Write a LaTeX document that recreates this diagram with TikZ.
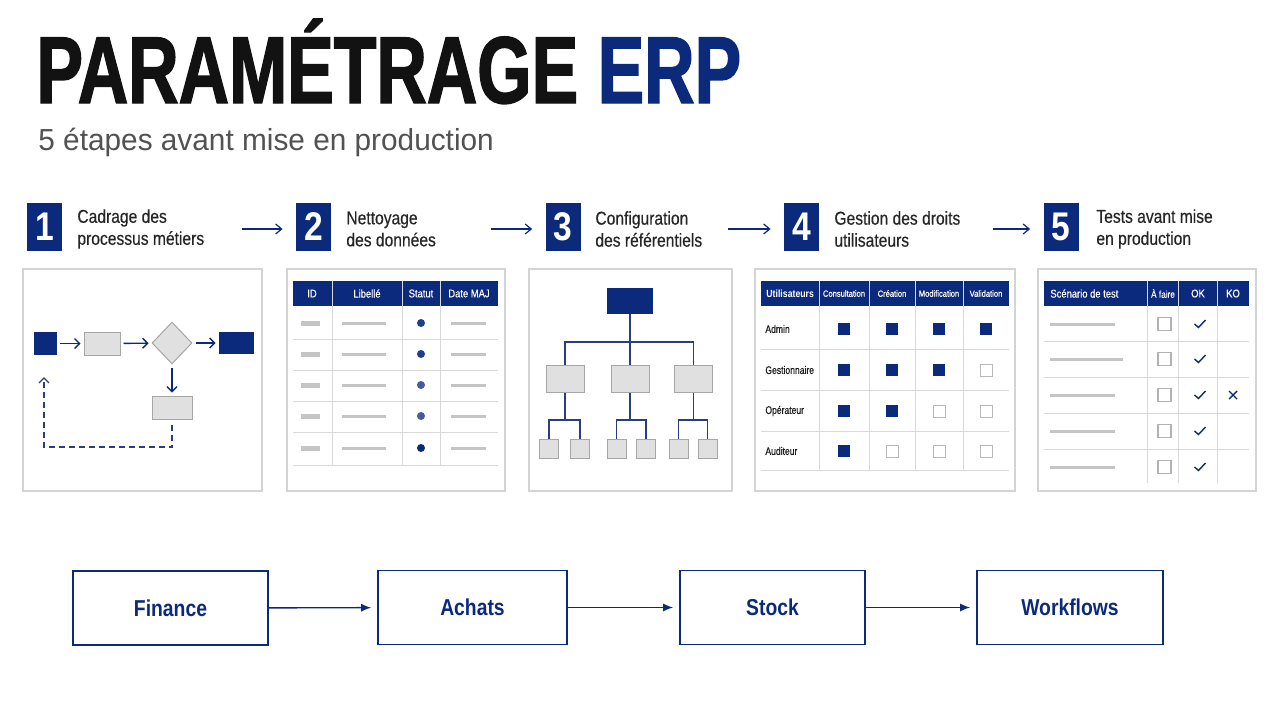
\documentclass[tikz,border=0pt]{standalone}
\usepackage{fontspec}
\setmainfont{Liberation Sans}
\newfontfamily\titlefont[FakeStretch=0.735,FakeBold=1.5]{Liberation Sans}
\newfontfamily\subfont[FakeStretch=0.98]{Liberation Sans}
\newfontfamily\condfont[FakeStretch=0.84]{Liberation Sans}
\newfontfamily\condmed[FakeStretch=0.84,FakeBold=0.4]{Liberation Sans}
\newfontfamily\rowfont[FakeStretch=0.78,FakeBold=0.5]{Liberation Sans}
\usetikzlibrary{arrows.meta,shapes.geometric,positioning}

\definecolor{erpnavy}{HTML}{0B2A7C}
\definecolor{dotA}{HTML}{1E3F8C}
\definecolor{dotB}{HTML}{4A5B9C}
\definecolor{treeblue}{HTML}{2B3D7C}

\begin{document}
\begin{tikzpicture}[x=0.5pt, y=-0.5pt,
    numbox/.style={fill=erpnavy, text=white, minimum width=17.5pt, minimum height=24pt, inner sep=0pt,
        font=\condfont\bfseries\fontsize{20}{20}\selectfont},
    steplabel/.style={anchor=west, align=left, inner sep=0pt, text=black!85,
        font=\condmed\fontsize{9.3}{11}\selectfont},
    steparrow/.style={-{Straight Barb[length=3pt,width=5pt]}, erpnavy, line width=0.6pt, shorten >=6.5pt},
    panel/.style={draw=black!17, line width=0.7pt, fill=white},
    navybox/.style={fill=erpnavy, inner sep=0pt},
    graybox/.style={draw=black!35, fill=black!12, line width=0.5pt, inner sep=0pt},
    graydiamond/.style={diamond, draw=black!35, fill=black!12, line width=0.5pt, inner sep=0pt,
        minimum width=20pt, minimum height=21pt},
    flowarrow/.style={-{Straight Barb[length=2.5pt,width=5pt]}, erpnavy, line width=0.7pt,
        shorten <=1.5pt, shorten >=1.5pt},
    loopline/.style={-{Straight Barb[length=2.5pt,width=5pt]}, treeblue, line width=0.7pt,
        dash pattern=on 3pt off 2pt, shorten <=2.5pt},
    treeline/.style={treeblue, line width=0.7pt},
    rule/.style={black!15, line width=0.5pt},
    bar/.style={black!23, line width=1.5pt},
    bargray/.style={black!23},
    headtext/.style={text=white, inner sep=0pt, font=\condmed\fontsize{5.6}{6}\selectfont},
    smallhead/.style={text=white, inner sep=0pt, font=\condmed\fontsize{4.5}{5}\selectfont},
    rowlabel/.style={anchor=west, inner sep=0pt, text=black!88, font=\rowfont\fontsize{5.5}{6}\selectfont},
    rightyes/.style={fill=erpnavy},
    rightno/.style={draw=black!28, fill=white, line width=0.5pt},
    checkbox/.style={draw=black!30, fill=white, line width=0.6pt},
    tick/.style={erpnavy, line width=0.7pt},
    module/.style={draw=erpnavy, line width=0.8pt, minimum height=37pt, text=erpnavy,
        font=\condfont\bfseries\fontsize{11.5}{12}\selectfont},
    modarrow/.style={-{Latex[length=5pt,width=4pt]}, erpnavy, line width=0.7pt, shorten >=3pt}
]

    % Background
    \fill[white] (0,0) rectangle (1280,702);
    \useasboundingbox (0,0) rectangle (1280,702);

    % Title
    \node[anchor=base west, inner sep=0pt, text=black!93,
        font=\titlefont\bfseries\fontsize{47.5}{47.5}\selectfont] (title) at (36,103)
        {PARAMÉTRAGE \textcolor{erpnavy}{ERP}};
    \node[anchor=base west, inner sep=0pt, text=black!68,
        font=\subfont\fontsize{15.2}{15.2}\selectfont] (subtitle) at (38,150)
        {5 étapes avant mise en production};

    % Steps
    \node[numbox] (n1) at (44.5,227) {1};
    \node[numbox] (n2) at (313.5,227) {2};
    \node[numbox] (n3) at (563,227) {3};
    \node[numbox] (n4) at (801.5,227) {4};
    \node[numbox] (n5) at (1061,227) {5};

    \node[steplabel] (s1) at (77,229) {Cadrage des\\processus métiers};
    \node[steplabel] (s2) at (346,229) {Nettoyage\\des données};
    \node[steplabel] (s3) at (595,229) {Configuration\\des référentiels};
    \node[steplabel] (s4) at (834,229) {Gestion des droits\\utilisateurs};
    \node[steplabel] (s5) at (1096,229) {Tests avant mise\\en production};

    \coordinate (a12) at (242,229);
    \coordinate (a23) at (491,229);
    \coordinate (a34) at (728,229);
    \coordinate (a45) at (993,229);
    \draw[steparrow] (a12) -- (n2.west |- a12);
    \draw[steparrow] (a23) -- (n3.west |- a23);
    \draw[steparrow] (a34) -- (n4.west |- a34);
    \draw[steparrow] (a45) -- (n5.west |- a45);

    % Panels
    \draw[panel] (23,269) rectangle (262,491);
    \draw[panel] (287,269) rectangle (505,491);
    \draw[panel] (529,269) rectangle (732,491);
    \draw[panel] (755,269) rectangle (1015,491);
    \draw[panel] (1038,269) rectangle (1256,491);

    % 1: process flow
    \node[navybox, minimum width=11.5pt, minimum height=11.5pt] (f1start) at (45.5,343.5) {};
    \node[graybox, minimum width=18pt, minimum height=11.5pt] (f1task) at (102,343.5) {};
    \node[graydiamond] (f1test) at (172,343) {};
    \node[navybox, minimum width=17.5pt, minimum height=11pt] (f1end) at (236.5,343) {};
    \node[graybox, minimum width=20pt, minimum height=11.5pt] (f1fix) at (172,407.5) {};
    \draw[flowarrow] (f1start) -- (f1task);
    \draw[flowarrow] (f1task) -- (f1test);
    \draw[flowarrow] (f1test) -- (f1end);
    \draw[flowarrow] (f1test) -- (f1fix);
    \coordinate (f1turn) at (172,447);
    \coordinate (f1back) at (44,377);
    \draw[loopline] (f1fix) -- (f1turn) -| (f1back);

    % 2: data table
    \fill[erpnavy] (293,281) rectangle (498,306);
    \foreach \y in {339,370,401,432,465}
        \draw[rule] (293,\y) -- (498,\y);
    \foreach \x in {332,402,440}
        \draw[rule] (\x,281) -- (\x,465);
    \node[headtext] (t2id) at (312,293.5) {ID};
    \node[headtext] (t2lib) at (367,293.5) {Libellé};
    \node[headtext] (t2stat) at (421,293.5) {Statut};
    \node[headtext] (t2date) at (469,293.5) {Date MAJ};
    \foreach \y/\c in {323/dotA, 354/dotA, 385/dotB, 416/dotB, 448/erpnavy} {
        \fill[bargray] (301,\y-2.5) rectangle (320,\y+2.5);
        \draw[bar] (342,\y) -- (386,\y);
        \fill[\c] (421,\y) circle[radius=2pt];
        \draw[bar] (451,\y) -- (486,\y);
    }

    % 3: reference tree
    \node[navybox, minimum width=23pt, minimum height=13pt] (r3root) at (630,301) {};
    \node[graybox, minimum width=19pt, minimum height=13.5pt] (r3a) at (565,378.5) {};
    \node[graybox, minimum width=19pt, minimum height=13.5pt] (r3b) at (630,378.5) {};
    \node[graybox, minimum width=19pt, minimum height=13.5pt] (r3c) at (693.5,378.5) {};
    \node[graybox, minimum size=9.5pt] (r3a1) at (549,448.5) {};
    \node[graybox, minimum size=9.5pt] (r3a2) at (580,448.5) {};
    \node[graybox, minimum size=9.5pt] (r3b1) at (616.5,448.5) {};
    \node[graybox, minimum size=9.5pt] (r3b2) at (646,448.5) {};
    \node[graybox, minimum size=9.5pt] (r3c1) at (678.5,448.5) {};
    \node[graybox, minimum size=9.5pt] (r3c2) at (707.5,448.5) {};
    \coordinate (r3bus) at (630,342);
    \draw[treeline] (r3root) -- (r3bus);
    \draw[treeline] (r3a.north) |- (r3bus) -| (r3c.north);
    \draw[treeline] (r3bus) -- (r3b.north);
    \coordinate (r3abus) at (565,420);
    \coordinate (r3bbus) at (630,420);
    \coordinate (r3cbus) at (693.5,420);
    \draw[treeline] (r3a) -- (r3abus);
    \draw[treeline] (r3b) -- (r3bbus);
    \draw[treeline] (r3c) -- (r3cbus);
    \draw[treeline] (r3a1.north) |- (r3abus) -| (r3a2.north);
    \draw[treeline] (r3b1.north) |- (r3bbus) -| (r3b2.north);
    \draw[treeline] (r3c1.north) |- (r3cbus) -| (r3c2.north);

    % 4: user rights
    \fill[erpnavy] (761,281) rectangle (1009,306);
    \foreach \y in {349,390,431,470}
        \draw[rule] (761,\y) -- (1009,\y);
    \foreach \x in {819,869,915,963}
        \draw[rule] (\x,281) -- (\x,470);
    \node[headtext, anchor=west, font=\condfont\bfseries\fontsize{5.2}{6}\selectfont] (t4user) at (766,293.5) {Utilisateurs};
    \node[smallhead] (t4cons) at (844,293.5) {Consultation};
    \node[smallhead] (t4crea) at (892,293.5) {Création};
    \node[smallhead] (t4modi) at (939,293.5) {Modification};
    \node[smallhead] (t4vali) at (986,293.5) {Validation};
    \node[rowlabel] (u4admin) at (765,329) {Admin};
    \node[rowlabel] (u4gest) at (765,370) {Gestionnaire};
    \node[rowlabel] (u4oper) at (765,411) {Opérateur};
    \node[rowlabel] (u4audi) at (765,451) {Auditeur};
    \foreach \x/\y/\k in {844/329/rightyes, 892/329/rightyes, 939/329/rightyes, 986/329/rightyes,
                          844/370/rightyes, 892/370/rightyes, 939/370/rightyes, 986/370/rightno,
                          844/411/rightyes, 892/411/rightyes, 939/411/rightno,  986/411/rightno,
                          844/451/rightyes, 892/451/rightno,  939/451/rightno,  986/451/rightno}
        \path[\k] (\x-6,\y-6) rectangle (\x+6,\y+6);

    % 5: test plan
    \fill[erpnavy] (1044,281) rectangle (1249,306);
    \foreach \y in {341,377,413,449}
        \draw[rule] (1044,\y) -- (1249,\y);
    \foreach \x in {1147,1178,1217}
        \draw[rule] (\x,281) -- (\x,483);
    \node[headtext, anchor=west] (t5scen) at (1050,293.5) {Scénario de test};
    \node[smallhead, font=\condmed\fontsize{4.9}{5}\selectfont] (t5todo) at (1163,293.5) {À faire};
    \node[headtext] (t5ok) at (1198,293.5) {OK};
    \node[headtext] (t5ko) at (1233,293.5) {KO};
    \foreach \y/\l in {324/1115, 359/1123, 395/1115, 431/1115, 467/1115} {
        \draw[bar] (1050,\y) -- (\l,\y);
        \draw[checkbox] (1158,\y-6.5) rectangle (1171,\y+6.5);
        \draw[tick] (1194.5,\y) -- (1198.5,\y+3.5) -- (1205.5,\y-4);
    }
    \draw[tick] (1229,391) -- (1237,399) (1229,399) -- (1237,391);

    % Modules
    \node[module, minimum width=97.5pt] (finance) at (170.5,608) {Finance};
    \node[module, minimum width=94.5pt] (achats) at (472.5,607.5) {Achats};
    \node[module, minimum width=92.5pt] (stock) at (772.5,607.5) {Stock};
    \node[module, minimum width=93pt] (workflows) at (1070,607.5) {Workflows};
    \draw[modarrow] (finance) -- (achats);
    \draw[modarrow] (achats) -- (stock);
    \draw[modarrow] (stock) -- (workflows);

\end{tikzpicture}
\end{document}
